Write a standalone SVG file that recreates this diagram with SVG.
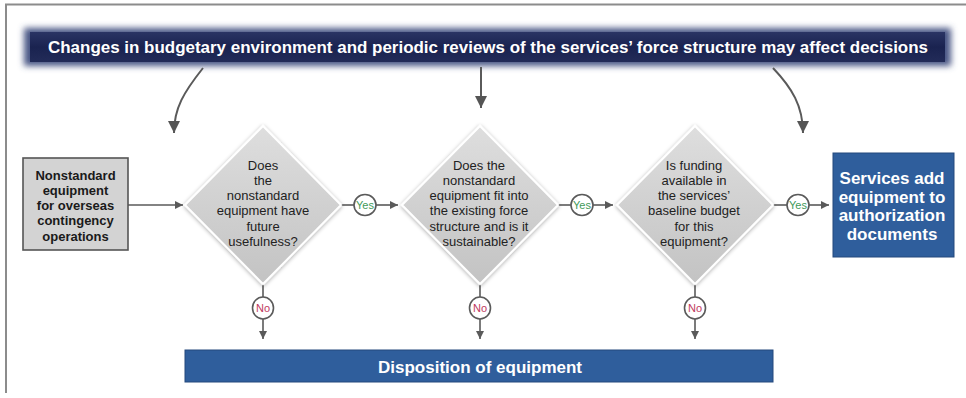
<svg xmlns="http://www.w3.org/2000/svg" width="966" height="398" viewBox="0 0 966 398">
<defs>
<style>
.frame{fill:none;stroke:#8c8c8c;stroke-width:2}
.q{font-family:"Liberation Sans",Arial,sans-serif;font-size:13px;fill:#222;text-anchor:middle}
.qb{font-family:"Liberation Sans",Arial,sans-serif;font-size:13px;font-weight:bold;fill:#1a1a1a;text-anchor:middle}
.wb{font-family:"Liberation Sans",Arial,sans-serif;font-weight:bold;fill:#fff;text-anchor:middle}
.conn{fill:none;stroke:#5a5a5a;stroke-width:1.6}
.curve{fill:none;stroke:#5a5a5a;stroke-width:2}
.badge{fill:#fff;stroke:#5a5a5a;stroke-width:1.6}
.yes{font-family:"Liberation Sans",Arial,sans-serif;font-size:11px;fill:#3f9a5a;text-anchor:middle}
.no{font-family:"Liberation Sans",Arial,sans-serif;font-size:11px;fill:#c0395e;text-anchor:middle}
.dia{fill:url(#dg);stroke:#ffffff;stroke-width:2;filter:url(#sh)}
.blue{fill:#2f5e9c;stroke:#24497d;stroke-width:1}
</style>
<linearGradient id="dg" x1="0" y1="0" x2="0" y2="1">
<stop offset="0" stop-color="#dedede"/>
<stop offset="1" stop-color="#c3c3c3"/>
</linearGradient>
<linearGradient id="bg" x1="0" y1="0" x2="0" y2="1">
<stop offset="0" stop-color="#2a3464"/>
<stop offset="0.5" stop-color="#1a2350"/>
<stop offset="1" stop-color="#222b58"/>
</linearGradient>
<filter id="sh" x="-20%" y="-20%" width="140%" height="140%">
<feGaussianBlur in="SourceAlpha" stdDeviation="2"/>
<feOffset dx="0" dy="1" result="b"/>
<feComponentTransfer><feFuncA type="linear" slope="0.35"/></feComponentTransfer>
<feMerge><feMergeNode/><feMergeNode in="SourceGraphic"/></feMerge>
</filter>
<filter id="glow" x="-5%" y="-40%" width="110%" height="180%">
<feGaussianBlur stdDeviation="3"/>
</filter>
<marker id="ah" markerWidth="10" markerHeight="10" refX="8" refY="4" orient="auto" markerUnits="userSpaceOnUse">
<path d="M0,0 L8,4 L0,8 Z" fill="#5a5a5a"/>
</marker>
<marker id="ahb" markerWidth="14" markerHeight="14" refX="12" refY="6" orient="auto" markerUnits="userSpaceOnUse">
<path d="M0,0 L12,6 L0,12 Z" fill="#555"/>
</marker>
</defs>
<rect width="966" height="398" fill="#fff"/>
<path class="frame" d="M6,393 V4.5 H966"/>

<g id="banner">
<rect x="24" y="28" width="927" height="38" fill="#4a5685" filter="url(#glow)"/>
<rect x="30" y="32" width="915" height="30" fill="url(#bg)"/>
<text class="wb" x="488" y="53" font-size="16" textLength="880" lengthAdjust="spacingAndGlyphs">Changes in budgetary environment and periodic reviews of the services’ force structure may affect decisions</text>
</g>

<g id="connectors">
<path class="curve" d="M203,68 C184,92 174,108 174,133" marker-end="url(#ahb)"/>
<path class="curve" d="M481,67 V108" marker-end="url(#ahb)"/>
<path class="curve" d="M773,68 C792,88 803,106 803,133" marker-end="url(#ahb)"/>
<path class="conn" d="M128,205 H183" marker-end="url(#ah)"/>
<path class="conn" d="M341,205 H354"/>
<path class="conn" d="M376,205 H398" marker-end="url(#ah)"/>
<path class="conn" d="M558,205 H571"/>
<path class="conn" d="M593,205 H613" marker-end="url(#ah)"/>
<path class="conn" d="M773,205 H787"/>
<path class="conn" d="M809,205 H829" marker-end="url(#ah)"/>
<path class="conn" d="M263,284 V297"/>
<path class="conn" d="M263,319 V339" marker-end="url(#ah)"/>
<path class="conn" d="M480,284 V297"/>
<path class="conn" d="M480,319 V339" marker-end="url(#ah)"/>
<path class="conn" d="M695,284 V297"/>
<path class="conn" d="M695,319 V339" marker-end="url(#ah)"/>
<g id="yes1"><ellipse class="badge" cx="365" cy="205" rx="11" ry="10.5"/><text class="yes" x="365" y="209">Yes</text></g>
<g id="yes2"><ellipse class="badge" cx="582" cy="205" rx="11" ry="10.5"/><text class="yes" x="582" y="209">Yes</text></g>
<g id="yes3"><ellipse class="badge" cx="798" cy="205" rx="11" ry="10.5"/><text class="yes" x="798" y="209">Yes</text></g>
<g id="no1"><ellipse class="badge" cx="263" cy="308" rx="10.5" ry="11"/><text class="no" x="263" y="312">No</text></g>
<g id="no2"><ellipse class="badge" cx="480" cy="308" rx="10.5" ry="11"/><text class="no" x="480" y="312">No</text></g>
<g id="no3"><ellipse class="badge" cx="695" cy="308" rx="10.5" ry="11"/><text class="no" x="695" y="312">No</text></g>
</g>

<g id="start">
<rect x="23" y="158" width="105" height="92" fill="#d3d3d3" stroke="#555" stroke-width="1.6"/>
<text class="qb" x="75.5" y="179.5">Nonstandard</text>
<text class="qb" x="75.5" y="194.8">equipment</text>
<text class="qb" x="75.5" y="210.1">for overseas</text>
<text class="qb" x="75.5" y="225.4">contingency</text>
<text class="qb" x="75.5" y="240.7">operations</text>
</g>

<g id="decision1">
<path class="dia" d="M263,126 L341,205 L263,284 L185,205 Z"/>
<text class="q" x="263" y="169.5">Does</text>
<text class="q" x="263" y="184.8">the</text>
<text class="q" x="263" y="200.1">nonstandard</text>
<text class="q" x="263" y="215.4">equipment have</text>
<text class="q" x="263" y="230.7">future</text>
<text class="q" x="263" y="246">usefulness?</text>
</g>

<g id="decision2">
<path class="dia" d="M480,126 L558,205 L480,284 L402,205 Z"/>
<text class="q" x="479" y="169.5">Does the</text>
<text class="q" x="479" y="184.8">nonstandard</text>
<text class="q" x="479" y="200.1">equipment fit into</text>
<text class="q" x="479" y="215.4">the existing force</text>
<text class="q" x="479" y="230.7">structure and is it</text>
<text class="q" x="479" y="246">sustainable?</text>
</g>

<g id="decision3">
<path class="dia" d="M695,126 L773,205 L695,284 L617,205 Z"/>
<text class="q" x="694" y="169.5">Is funding</text>
<text class="q" x="694" y="184.8">available in</text>
<text class="q" x="694" y="200.1">the services’</text>
<text class="q" x="694" y="215.4">baseline budget</text>
<text class="q" x="694" y="230.7">for this</text>
<text class="q" x="694" y="246">equipment?</text>
</g>

<g id="authorize">
<rect class="blue" x="833" y="153" width="121" height="104"/>
<text class="wb" font-size="17" x="892" y="184">Services add</text>
<text class="wb" font-size="17" x="892" y="202.5">equipment to</text>
<text class="wb" font-size="17" x="892" y="221">authorization</text>
<text class="wb" font-size="17" x="892" y="239.5">documents</text>
</g>

<g id="disposition">
<rect class="blue" x="185" y="350" width="588" height="32"/>
<text class="wb" font-size="17" x="480" y="372.5">Disposition of equipment</text>
</g>
</svg>
